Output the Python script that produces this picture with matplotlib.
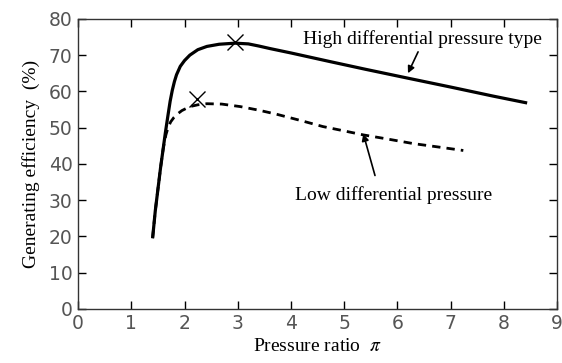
import matplotlib.pyplot as plt
import matplotlib
matplotlib.use("Agg")

plt.rcParams["mathtext.fontset"] = "stix"

# High differential pressure type (solid)
high_x = [1.40, 1.45, 1.50, 1.55, 1.60, 1.64, 1.69, 1.73, 1.77, 1.81, 1.85, 1.92, 2.00, 2.10, 2.25, 2.42, 2.65, 2.95, 3.20, 3.40, 3.61, 4.00, 4.74, 5.40, 6.18, 7.00, 7.80, 8.44]
high_y = [19.5, 27.0, 33.0, 39.0, 44.3, 48.6, 53.5, 57.3, 60.3, 62.7, 64.6, 66.9, 68.5, 70.0, 71.5, 72.4, 73.0, 73.3, 73.1, 72.5, 71.8, 70.6, 68.2, 66.1, 63.7, 61.2, 58.7, 56.8]

# Low differential pressure type (dashed)
low_x = [1.40, 1.45, 1.50, 1.55, 1.60, 1.65, 1.69, 1.74, 1.80, 1.87, 1.95, 2.10, 2.25, 2.42, 2.70, 3.05, 3.40, 3.73, 4.20, 4.60, 5.00, 5.36, 5.80, 6.30, 6.80, 7.24]
low_y = [19.5, 27.0, 33.0, 39.0, 44.3, 48.0, 50.0, 51.6, 52.8, 53.8, 54.7, 55.8, 56.3, 56.6, 56.5, 55.8, 54.8, 53.7, 51.9, 50.3, 49.1, 48.0, 46.9, 45.6, 44.6, 43.7]

# optimum points (x markers)
peak_x = [2.95, 2.23]
peak_y = [73.6, 57.9]

serif = "Liberation Serif"

fig, ax = plt.subplots(figsize=(5.62, 3.63), dpi=100)
fig.subplots_adjust(left=0.139, right=0.991, top=0.948, bottom=0.149)

ax.plot(high_x, high_y, color="black", lw=2.3, solid_capstyle="butt")
ax.plot(low_x, low_y, color="black", lw=2.0, dashes=(3.0, 2.2))
ax.plot(peak_x, peak_y, "x", color="black", ms=11, mew=1.0)

ax.set_xlim(0, 9)
ax.set_ylim(0, 80)
ax.set_xticks(range(0, 10))
ax.set_yticks(range(0, 90, 10))
ax.tick_params(direction="in", top=True, right=True, length=6, width=1,
               labelsize=13.5, labelcolor="#555555")
ax.tick_params(axis="x", pad=4)
ax.tick_params(axis="y", pad=4)
for s in ax.spines.values():
    s.set_linewidth(1.0)
    s.set_color("#333333")

ax.annotate("", xy=(6.20, 65.0), xytext=(6.39, 70.9),
            arrowprops=dict(arrowstyle="-|>", color="black", lw=1.2,
                            mutation_scale=10, shrinkA=0, shrinkB=0))
ax.text(6.48, 74.3, "High differential pressure type", ha="center", va="center",
        family=serif, fontsize=14)

ax.annotate("", xy=(5.36, 48.3), xytext=(5.58, 36.8),
            arrowprops=dict(arrowstyle="-|>", color="black", lw=1.2,
                            mutation_scale=10, shrinkA=0, shrinkB=0))
ax.text(5.92, 31.4, "Low differential pressure", ha="center", va="center",
        family=serif, fontsize=14)

ax.set_xlabel("Pressure ratio  $\\pi$", family=serif, fontsize=14, labelpad=3)
ax.set_ylabel("Generating efficiency  (%)", family=serif, fontsize=14, labelpad=6)

fig.savefig("out.png", dpi=100)
